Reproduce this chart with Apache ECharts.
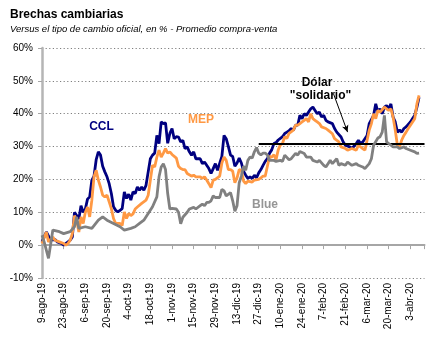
<!DOCTYPE html>
<html><head><meta charset="utf-8">
<script src="https://cdn.jsdelivr.net/npm/echarts@6/dist/echarts.min.js"></script>
<style>html,body{margin:0;padding:0;background:#fff}#c{width:443px;height:339px}</style>
</head><body><div id="c"></div>
<script>
// x = business-day index from 9-ago-19 (0); ticks every 10 business days
const tickLabels = ['9-ago-19','23-ago-19','6-sep-19','20-sep-19','4-oct-19','18-oct-19','1-nov-19','15-nov-19','29-nov-19','13-dic-19','27-dic-19','10-ene-20','24-ene-20','7-feb-20','21-feb-20','6-mar-20','20-mar-20','3-abr-20'];

const ccl = [[0,1],[2,4],[4,1.5],[6,1.7],[7,1],[9,0.5],[10,0],[12,1],[13,1.5],[14,2.5],[15,10],[16,9],[17,8],[18,12],[19,10],[20,11],[21,14],[22,14.7],[23,19.8],[24,21],[25,26],[26,28.4],[27,27.4],[28,24],[29,22.3],[30,20.8],[31,18.7],[32,15.7],[33,11.7],[34,10.6],[35,10.1],[36,10.6],[37,11.1],[38,16.2],[39,14.2],[40,15.5],[41,13.7],[42,16.2],[43,15.7],[44,17.7],[45,16.7],[46,17.7],[47,16.7],[48,18.2],[49,22.3],[50,26.3],[51,27.4],[52,28],[53,33.4],[54,30.9],[55,37.5],[56,37],[57,37.2],[58,31],[59,34],[60,35.5],[61,32.4],[62,33],[63,32.9],[64,31.4],[65,31.9],[66,29.4],[67,29.9],[68,28.4],[69,27.4],[70,28.4],[71,26.3],[73,26.3],[74,24.8],[75,25.3],[77,23.3],[78,21.8],[79,23.3],[80,24.8],[81,22.8],[83,27],[84,33.4],[85,32.4],[86,30],[87,27.4],[88,27],[89,24],[90,25],[91,26.5],[92,25],[93,22.5],[94,21.3],[95,20.3],[96,20.8],[97,20.3],[98,21.3],[99,20.5],[100,22],[101,23],[102,24.3],[103,25.5],[104,26.3],[105,28],[106,29],[107,30.9],[108,31.2],[109,32],[110,32.5],[111,33],[112,34],[113,34.4],[114,34.8],[115,35.5],[116,35],[117,36.5],[118,36.5],[119,39.5],[120,38.5],[121,40],[122,39.5],[124,41.5],[125,42],[126,41],[127,40],[128,40.5],[129,39],[130,39.5],[131,38],[132,37.5],[134,37],[135,35.5],[136,34.4],[138,32.9],[139,31.4],[140,30.4],[142,29.9],[143,29.4],[145,30.9],[146,31.9],[147,30.9],[148,31.4],[150,33.4],[151,37],[153,39.5],[154,43],[155,40.5],[156,41.5],[157,40],[158,42],[159,42.5],[160,41.5],[161,43],[162,39],[163,37.5],[164,34.4],[165,35],[166,34.4],[167,35.5],[168,36],[170,37.5],[171,38.5],[172,39.5],[173,42],[174,45]];

const mep = [[0,0.5],[2,4],[3,1],[5,2.5],[6,1.5],[8,1],[10,0.5],[11,0],[12,0.5],[13,1.5],[14,3.5],[15,9],[16,7.5],[17,4],[18,8.6],[19,6.6],[20,10],[21,11.6],[22,8.6],[23,13.7],[24,20.8],[25,22.8],[26,19.8],[27,17.7],[28,15.2],[29,14.7],[30,15.2],[31,13.2],[32,11.1],[33,8.1],[34,6.6],[36,6.6],[37,6],[38,10.1],[39,8.1],[40,9.6],[41,9],[42,9.5],[43,11],[44,11.6],[46,12.7],[48,13.7],[49,15.2],[50,19.8],[51,24.3],[52,23.8],[53,26.8],[54,28.9],[55,26.8],[56,28],[57,29.4],[58,28],[59,28.4],[60,27.6],[62,26.5],[63,24],[64,23.3],[65,23],[66,23],[67,21.8],[69,21],[70,21.3],[71,20.8],[73,20.8],[74,20.3],[75,20.8],[76,19.8],[77,18.7],[78,17.5],[79,19.8],[80,20],[82,21],[83,25],[84,26.8],[85,25.8],[86,23],[87,23],[88,22.5],[89,19],[90,20.5],[91,23],[92,22.8],[93,19.5],[94,18.7],[95,19.5],[97,19.2],[98,19.8],[100,20],[101,20.5],[102,21],[103,21],[104,24],[105,27],[106,26.8],[107,27.5],[108,26],[109,29],[110,30.5],[111,31],[112,33],[113,32.5],[114,34],[116,35],[117,36.5],[118,36.5],[119,37],[120,37.5],[121,38],[122,38.5],[123,37.5],[124,40],[125,38.5],[126,38],[127,37.5],[128,37],[129,36],[131,35.5],[132,35],[134,33.9],[135,32.4],[137,31.4],[138,29.9],[140,29.4],[141,28.9],[143,29.4],[145,28.9],[146,30.4],[148,29.4],[149,28.9],[150,31.9],[151,35],[152,37],[153,40],[154,38.5],[155,41],[156,40.5],[158,42],[159,41.5],[160,41],[161,41.5],[162,39],[163,35],[164,30.4],[165,30],[166,32],[167,33.4],[168,34.4],[169,35.5],[170,36.5],[171,37.5],[172,38.5],[173,43],[174,45.6]];

const blue = [[0,3],[1,1],[3,-4],[5,4.6],[8,4.1],[10,3.5],[13,4.1],[15,5.6],[16,8.6],[17,5.1],[20,5.6],[23,5.1],[26,7.6],[28,8.6],[30,7.6],[33,6.6],[36,5.6],[38,4.6],[41,5.1],[43,5.6],[45,6.6],[47,7.6],[49,9.6],[51,11.7],[53,14.7],[54,20.8],[55,23.8],[56,24.8],[57,23],[58,15.7],[59,11],[60,11.2],[62,11],[63,10],[64,6.5],[65,8.5],[67,10],[68,11],[70,11.5],[71,11],[73,12],[74,12.5],[75,12],[76,13],[77,13],[78,13.5],[79,15],[80,14.5],[82,14.5],[83,17],[84,16.5],[85,15],[87,16],[88,13.5],[89,10.3],[90,12],[91,19],[92,21],[93,24],[94,22.8],[95,25.8],[96,26.8],[97,26.5],[98,28.4],[99,29.7],[100,28],[101,27.5],[102,28],[103,28],[104,27.5],[105,25.8],[107,25.8],[108,25.5],[110,25.8],[111,25.5],[112,27.4],[114,26],[115,26.3],[117,27.9],[118,27.4],[119,28.5],[121,27.9],[122,26.8],[124,26.8],[125,25.8],[127,25.3],[128,25.8],[130,24.3],[131,23.8],[133,25.8],[134,24.8],[136,26.3],[137,24.3],[138,24.8],[140,24.3],[141,25.3],[143,24.3],[145,24.8],[146,24.3],[148,23.8],[149,23.3],[151,24.8],[152,26.3],[153,30.4],[155,32.6],[156,33],[157,34.4],[158,39.5],[159,31.4],[161,30.4],[162,29.9],[164,29.9],[165,29.4],[167,29.9],[168,29.4],[170,28.9],[172,28.4],[173,27.9],[174,28]];

const solidarioLevel = 30.8;
const solidarioStart = 100;
const xMax = 176.5;

const chart = echarts.init(document.getElementById('c'));
const F = '"Liberation Sans", Arial, sans-serif';
chart.setOption({
  animation: false,
  backgroundColor: '#fff',
  grid: {left: 42, right: 18.5, top: 48, bottom: 61, containLabel: false},
  xAxis: [{
    type: 'value', min: 0, max: xMax, interval: 10, position: 'bottom',
    axisLine: {show: false, onZero: false}, axisTick: {show: false}, splitLine: {show: false},
    axisLabel: {rotate: 90, margin: 5, fontSize: 10, fontFamily: F, color: '#000', showMaxLabel: false,
      formatter: v => tickLabels[Math.round(v / 10)] || ''}
  }, {
    type: 'value', min: 0, max: xMax, interval: 10, position: 'bottom',
    axisLine: {show: true, onZero: true, lineStyle: {color: '#a6a6a6', width: 2}},
    axisTick: {show: true, length: 4, lineStyle: {color: '#a6a6a6', width: 1}},
    axisLabel: {show: false}, splitLine: {show: false}
  }],
  yAxis: {
    type: 'value', min: -10, max: 60, interval: 10,
    axisLine: {show: true, onZero: false, lineStyle: {color: '#b5b5b5', width: 2.5}},
    axisTick: {show: true, length: 4, lineStyle: {color: '#a6a6a6'}},
    axisLabel: {formatter: '{value}%', fontSize: 10, fontFamily: F, color: '#000', margin: 9},
    splitLine: {show: true, lineStyle: {color: '#7f7f7f', type: [1.2, 2.4], width: 1}}
  },
  series: [
    {name: 'CCL', type: 'line', data: ccl, showSymbol: false, symbol: 'none', z: 3,
     lineStyle: {color: '#000080', width: 2.8}, itemStyle: {color: '#000080'}},
    {name: 'MEP', type: 'line', data: mep, showSymbol: false, symbol: 'none', z: 4,
     lineStyle: {color: '#FF9944', width: 2.8}, itemStyle: {color: '#FF9944'}},
    {name: 'Blue', type: 'line', data: blue, showSymbol: false, symbol: 'none', z: 5,
     lineStyle: {color: '#808080', width: 2.8}, itemStyle: {color: '#808080'},
     markLine: {silent: true, symbol: ['none', 'none'], label: {show: false},
       data: [
         [{coord: [solidarioStart, solidarioLevel], lineStyle: {color: '#000', width: 2, type: 'solid'}},
          {coord: [xMax, solidarioLevel]}],
         [{coord: [134.5, 46.1], symbol: 'none', lineStyle: {color: '#000', width: 1, type: 'solid'}},
          {coord: [141, 34.4], symbol: 'arrow', symbolSize: [5, 7]}]
       ]}}
  ],
  graphic: [
    {type: 'text', left: 10, top: 9, style: {text: 'Brechas cambiarias', font: 'bold 12px ' + F, fill: '#000'}},
    {type: 'text', left: 10, top: 24, style: {text: 'Versus el tipo de cambio oficial, en % - Promedio compra-venta', font: 'italic 9.5px ' + F, fill: '#000'}},
    {type: 'text', x: 101.5, y: 127, style: {text: 'CCL', font: 'bold 12px ' + F, fill: '#000080', textAlign: 'center', textVerticalAlign: 'middle', verticalAlign: 'middle'}},
    {type: 'text', x: 201, y: 120, style: {text: 'MEP', font: 'bold 12px ' + F, fill: '#FF9944', textAlign: 'center', textVerticalAlign: 'middle', verticalAlign: 'middle'}},
    {type: 'text', x: 265, y: 205, style: {text: 'Blue', font: 'bold 12px ' + F, fill: '#959595', textAlign: 'center', textVerticalAlign: 'middle', verticalAlign: 'middle'}},
    {type: 'text', x: 317, y: 83, style: {text: 'Dólar', font: 'bold 12px ' + F, fill: '#000', textAlign: 'center', textVerticalAlign: 'middle', verticalAlign: 'middle'}},
    {type: 'text', x: 320.5, y: 96, style: {text: '"solidario"', font: 'bold 12px ' + F, fill: '#000', textAlign: 'center', textVerticalAlign: 'middle', verticalAlign: 'middle'}}
  ]
});
</script></body></html>
